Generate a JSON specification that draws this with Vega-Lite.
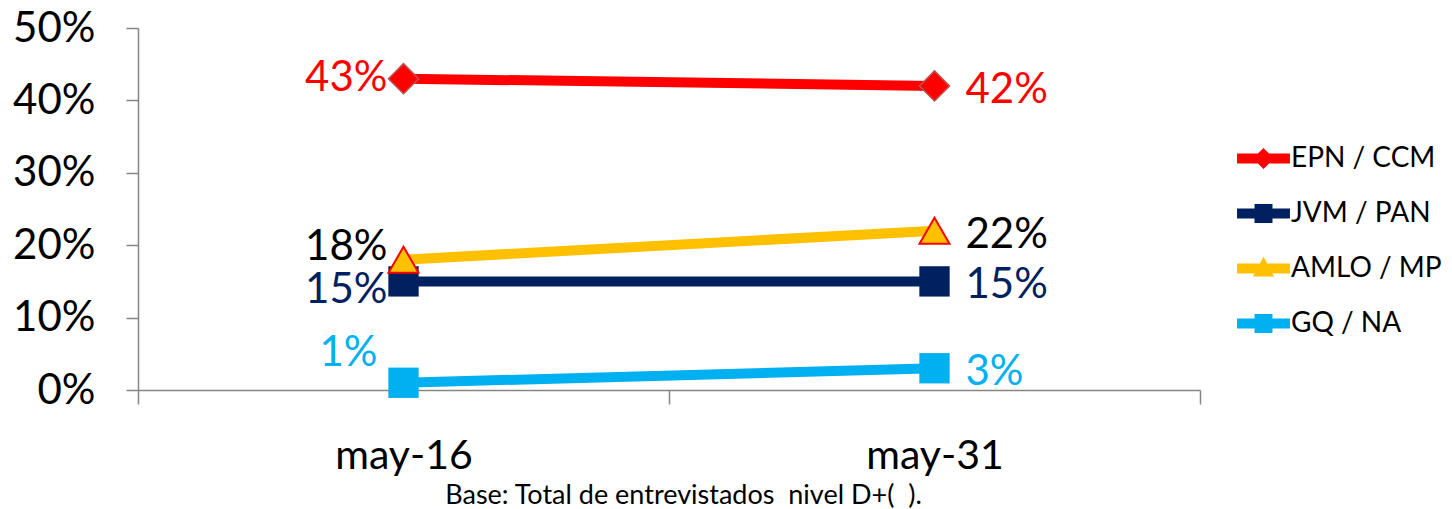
{
  "$schema": "https://vega.github.io/schema/vega-lite/v6.json",
  "autosize": "none",
  "width": 1062,
  "height": 362,
  "padding": {"left": 138, "top": 28, "right": 252, "bottom": 119},
  "background": "white",
  "config": {
    "font": "Lato",
    "view": {"stroke": null},
    "axis": {"grid": false, "domainColor": "#868686", "tickColor": "#868686", "domainWidth": 1.5, "tickWidth": 1.5, "labelColor": "#000000", "labelFont": "Lato"},
    "legend": {"labelFontSize": 28, "labelColor": "#000000", "labelFont": "Lato", "symbolSize": 2800, "symbolStrokeWidth": 0, "rowPadding": 14, "labelOffset": 1, "padding": 0}
  },
  "data": {
    "values": [
      {"fecha": "may-16", "serie": "EPN / CCM", "valor": 0.43},
      {"fecha": "may-31", "serie": "EPN / CCM", "valor": 0.42},
      {"fecha": "may-16", "serie": "JVM / PAN", "valor": 0.15},
      {"fecha": "may-31", "serie": "JVM / PAN", "valor": 0.15},
      {"fecha": "may-16", "serie": "AMLO / MP", "valor": 0.18},
      {"fecha": "may-31", "serie": "AMLO / MP", "valor": 0.22},
      {"fecha": "may-16", "serie": "GQ / NA", "valor": 0.01},
      {"fecha": "may-31", "serie": "GQ / NA", "valor": 0.03}
    ]
  },
  "encoding": {
    "x": {"field": "fecha", "type": "nominal", "sort": ["may-16", "may-31"],
      "scale": {"paddingInner": 0, "paddingOuter": 0},
      "axis": {"labelAngle": 0, "labelFontSize": 41, "tickSize": 14, "tickBand": "extent", "labelPadding": 32,
        "title": "Base: Total de entrevistados \u00a0nivel D+( \u00a0).", "titleFontSize": 27, "titleFontWeight": "normal", "titleColor": "#000000", "titlePadding": 6, "titleFont": "Lato", "titleX": 545}},
    "y": {"field": "valor", "type": "quantitative",
      "scale": {"domain": [0, 0.5], "nice": false},
      "axis": {"values": [0, 0.1, 0.2, 0.3, 0.4, 0.5], "format": ".0%", "labelFontSize": 42, "tickSize": 12, "labelPadding": 31, "title": null}}
  },
  "layer": [
    {
      "mark": {"type": "line", "strokeWidth": 10, "strokeCap": "butt"},
      "encoding": {
        "stroke": {"field": "serie", "type": "nominal", "legend": null,
          "scale": {"domain": ["GQ / NA", "AMLO / MP", "JVM / PAN", "EPN / CCM"], "range": ["#00B0F0", "#FFC000", "#002060", "#FF0000"]}}
      }
    },
    {
      "mark": {"type": "point", "filled": true, "size": 4, "opacity": 1},
      "encoding": {
        "color": {"field": "serie", "type": "nominal", "title": null,
          "scale": {"domain": ["EPN / CCM", "JVM / PAN", "AMLO / MP", "GQ / NA"], "range": ["#FF0000", "#002060", "#FFC000", "#00B0F0"]},
          "legend": {"orient": "none", "legendX": 1099, "legendY": 104}},
        "shape": {"field": "serie", "type": "nominal", "title": null,
          "scale": {"domain": ["EPN / CCM", "JVM / PAN", "AMLO / MP", "GQ / NA"],
            "range": [
              "M-1,-0.19L1,-0.19L1,0.19L-1,0.19Z M0,-0.4L0.4,0L0,0.4L-0.4,0Z",
              "M-1,-0.19L1,-0.19L1,0.19L-1,0.19Z M-0.34,-0.36L0.34,-0.36L0.34,0.36L-0.34,0.36Z",
              "M-1,-0.19L1,-0.19L1,0.19L-1,0.19Z M0,-0.44L0.4,0.3L-0.4,0.3Z",
              "M-1,-0.19L1,-0.19L1,0.19L-1,0.19Z M-0.34,-0.36L0.34,-0.36L0.34,0.36L-0.34,0.36Z"
            ]},
          "legend": {"orient": "none", "legendX": 1099, "legendY": 104}}
      }
    },
    {
      "transform": [{"filter": "datum.serie === 'EPN / CCM'"}],
      "mark": {"type": "point", "shape": "diamond", "filled": true, "fill": "#FF0000", "stroke": "#C0504D", "strokeWidth": 1.5, "size": 900, "opacity": 1}
    },
    {
      "transform": [{"filter": "datum.serie === 'JVM / PAN'"}],
      "mark": {"type": "point", "shape": "square", "filled": true, "fill": "#002060", "size": 920, "opacity": 1}
    },
    {
      "transform": [{"filter": "datum.serie === 'AMLO / MP'"}],
      "mark": {"type": "point", "shape": "triangle-up", "filled": true, "fill": "#FFC000", "stroke": "#FF0000", "strokeWidth": 2, "size": 900, "opacity": 1}
    },
    {
      "transform": [{"filter": "datum.serie === 'GQ / NA'"}],
      "mark": {"type": "point", "shape": "square", "filled": true, "fill": "#00B0F0", "size": 920, "opacity": 1}
    },
    {
      "transform": [{"filter": "datum.fecha === 'may-31'"}],
      "mark": {"type": "text", "align": "left", "baseline": "middle", "dx": 31, "dy": 4, "fontSize": 42},
      "encoding": {
        "text": {"field": "valor", "format": ".0%"},
        "fill": {"field": "serie", "type": "nominal", "legend": null,
          "scale": {"domain": ["JVM / PAN", "GQ / NA", "EPN / CCM", "AMLO / MP"], "range": ["#002060", "#00B0F0", "#FF0000", "#000000"]}}
      }
    },
    {
      "transform": [{"filter": "datum.fecha === 'may-16' && datum.serie === 'EPN / CCM'"}],
      "mark": {"type": "text", "align": "right", "baseline": "middle", "dx": -16, "dy": -1, "fontSize": 42},
      "encoding": {"text": {"field": "valor", "format": ".0%"}, "fill": {"field": "serie", "type": "nominal", "legend": null}}
    },
    {
      "transform": [{"filter": "datum.fecha === 'may-16' && datum.serie === 'AMLO / MP'"}],
      "mark": {"type": "text", "align": "right", "baseline": "middle", "dx": -16, "dy": -13, "fontSize": 42},
      "encoding": {"text": {"field": "valor", "format": ".0%"}, "fill": {"field": "serie", "type": "nominal", "legend": null}}
    },
    {
      "transform": [{"filter": "datum.fecha === 'may-16' && datum.serie === 'JVM / PAN'"}],
      "mark": {"type": "text", "align": "right", "baseline": "middle", "dx": -16, "dy": 9, "fontSize": 42},
      "encoding": {"text": {"field": "valor", "format": ".0%"}, "fill": {"field": "serie", "type": "nominal", "legend": null}}
    },
    {
      "transform": [{"filter": "datum.fecha === 'may-16' && datum.serie === 'GQ / NA'"}],
      "mark": {"type": "text", "align": "right", "baseline": "middle", "dx": -26, "dy": -30, "fontSize": 42},
      "encoding": {"text": {"field": "valor", "format": ".0%"}, "fill": {"field": "serie", "type": "nominal", "legend": null}}
    }
  ]
}
